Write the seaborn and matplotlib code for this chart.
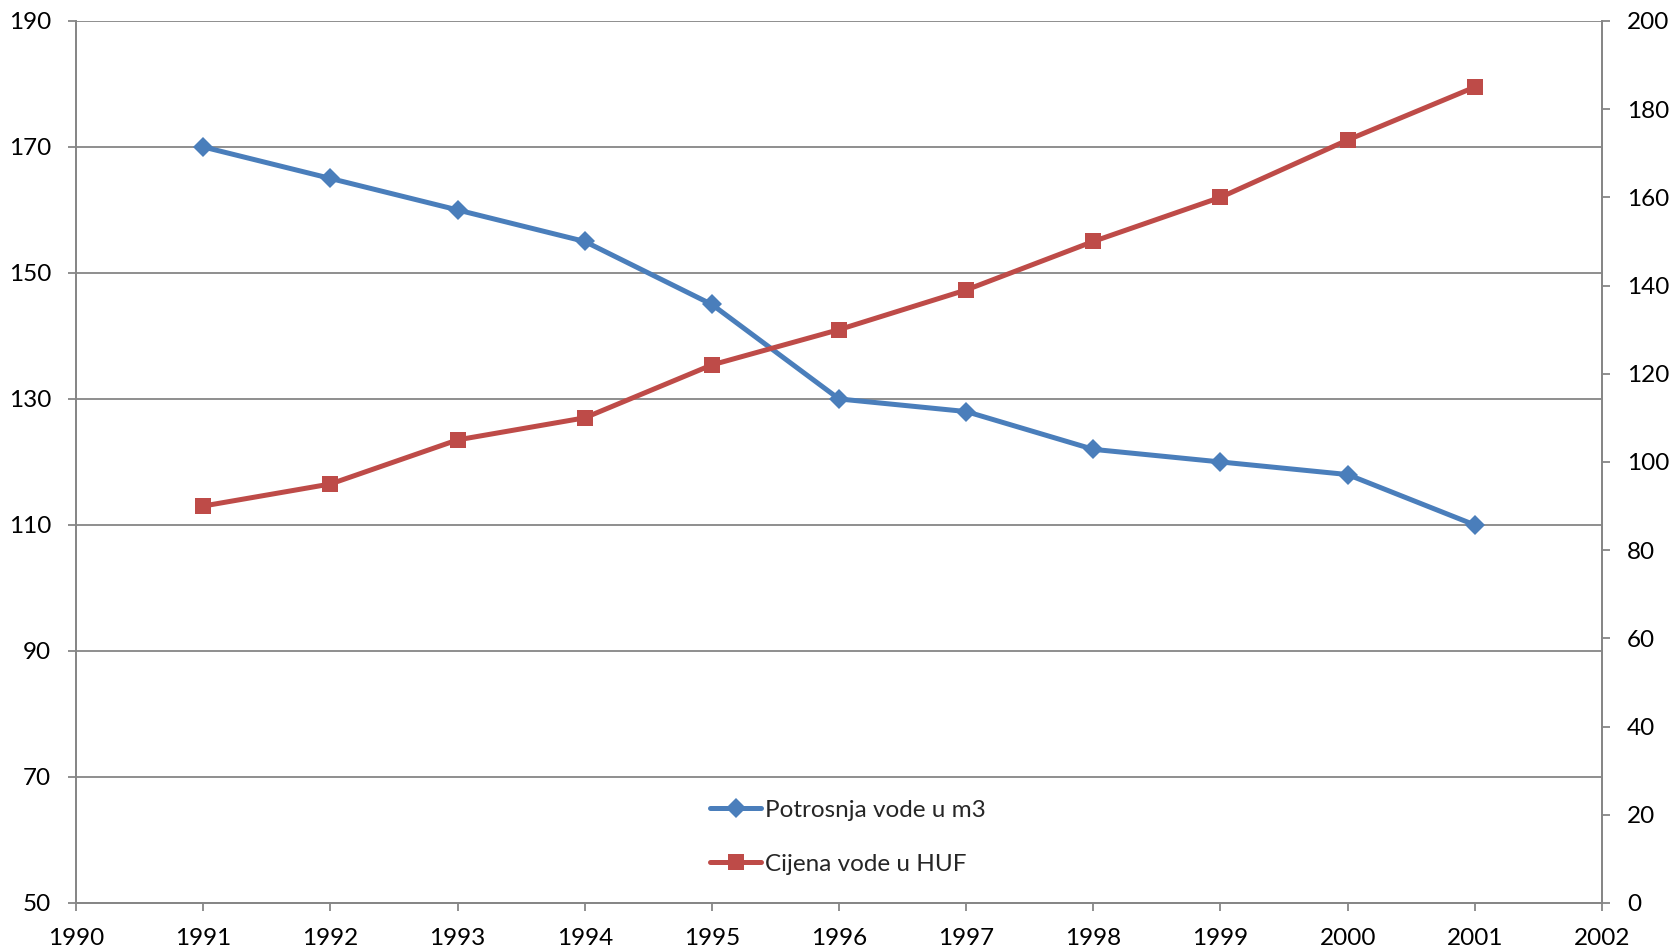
import pandas as pd
import matplotlib.pyplot as plt
import seaborn as sns

# Data
years = [1991, 1992, 1993, 1994, 1995, 1996, 1997, 1998, 1999, 2000, 2001]
potrosnja = [170, 165, 160, 155, 145, 130, 128, 122, 120, 118, 110]
cijena = [90, 95, 105, 110, 122, 130, 139, 150, 160, 173, 185]
left_ticks = [50, 70, 90, 110, 130, 150, 170, 190]
right_ticks = [0, 20, 40, 60, 80, 100, 120, 140, 160, 180, 200]
x_ticks = list(range(1990, 2003))

df = pd.DataFrame({'Godina': years, 'Potrosnja': potrosnja, 'Cijena': cijena})

sns.set_style('white')
plt.rcParams['font.family'] = ['Lato', 'DejaVu Sans']

blue = '#4A7EBB'
red = '#BE4B48'
grey = '#868686'
fs = 17.5

fig = plt.figure(figsize=(16.71, 9.51), dpi=100)
ax = fig.add_axes([0.0455, 0.0505, 0.9132, 0.9275])
ax2 = ax.twinx()

sns.lineplot(data=df, x='Godina', y='Potrosnja', ax=ax, color=blue, linewidth=3.6,
             marker='D', markersize=10, markeredgewidth=0, label='Potrosnja vode u m3',
             legend=False)
sns.lineplot(data=df, x='Godina', y='Cijena', ax=ax2, color=red, linewidth=3.6,
             marker='s', markersize=12, markeredgewidth=0, label='Cijena vode u HUF',
             legend=False)

ax.set_xlim(1990, 2002)
ax.set_ylim(50, 190)
ax2.set_ylim(0, 200)
ax.set_xticks(x_ticks)
ax.set_yticks(left_ticks)
ax2.set_yticks(right_ticks)
ax.set_xlabel('')
ax.set_ylabel('')
ax2.set_ylabel('')

ax.grid(axis='y', color=grey, linewidth=1.3)
ax.set_axisbelow(True)
for a in (ax, ax2):
    a.spines['top'].set_visible(False)
    for s in ('left', 'right', 'bottom'):
        a.spines[s].set_color(grey)
        a.spines[s].set_linewidth(1.3)
    a.tick_params(axis='both', direction='out', length=6, width=1.3, color=grey,
                  labelsize=fs, labelcolor='black')
ax.tick_params(axis='y', left=True, pad=12)
ax.tick_params(axis='x', bottom=True, pad=12)
ax2.tick_params(axis='y', right=True, pad=12)

handles = ax.get_lines()[:1] + ax2.get_lines()[:1]
fig.legend(handles, [h.get_label() for h in handles], loc='upper left',
           bbox_to_anchor=(0.412, 0.182), frameon=False, fontsize=fs,
           handlelength=2.1, handletextpad=0.15, labelspacing=1.35)

fig.savefig('out.png', dpi=100)
